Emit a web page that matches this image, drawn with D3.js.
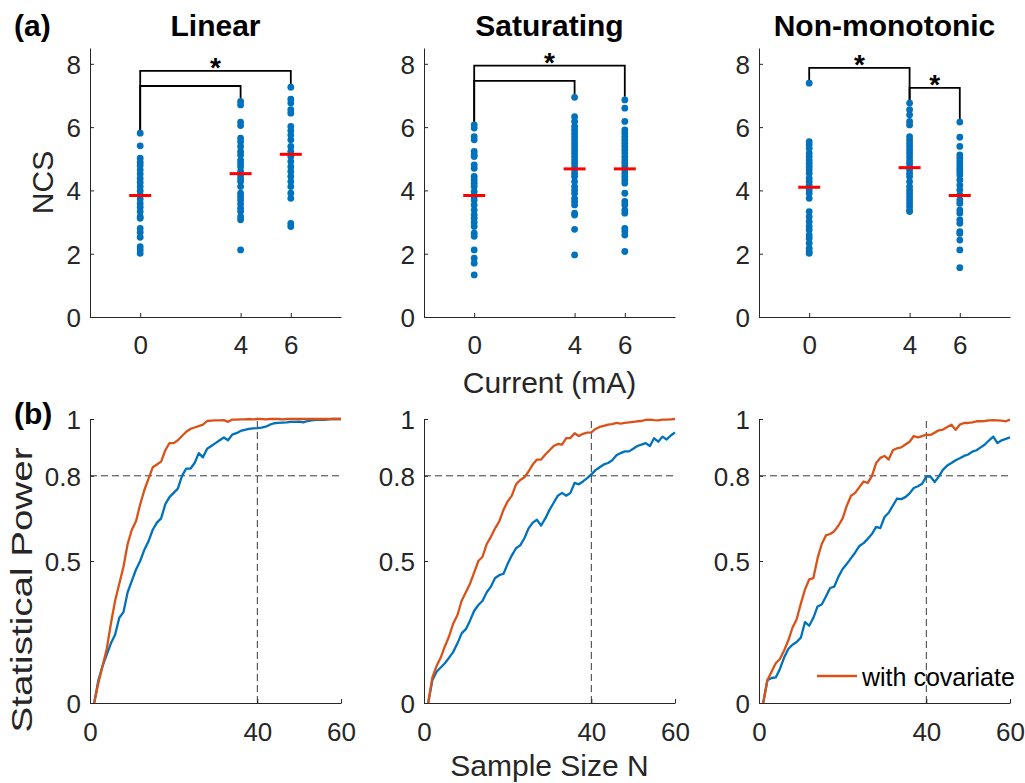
<!DOCTYPE html>
<html>
<head>
<meta charset="utf-8">
<script src="https://cdn.jsdelivr.net/npm/d3@7"></script>
<style>
  html, body { margin: 0; padding: 0; background: #fff; }
  svg { display: block; font-family: "Liberation Sans", Arial, Helvetica, sans-serif; }
</style>
</head>
<body>
<svg id="chart" width="1025" height="783"></svg>
<script>
// ---------------- DATA ----------------
const modelNames = ["Linear", "Saturating", "Non-monotonic"];
const currents = [0, 4, 6];
const ncsTicks = [0, 2, 4, 6, 8];

// NCS scores per model and current (0, 4, 6 mA)
const linear0 = [5.81, 5.41, 5.02, 4.89, 4.79, 4.65, 4.52, 4.38, 4.25, 4.12, 3.99, 3.86, 3.73, 3.59, 3.47, 3.33, 3.17, 3.12, 2.80, 2.68, 2.52, 2.22, 2.12, 2.01];
const linear4 = [6.81, 6.70, 6.16, 6.05, 5.65, 5.54, 5.39, 5.23, 5.12, 4.96, 4.86, 4.75, 4.60, 4.49, 4.38, 4.28, 4.12, 3.91, 3.81, 3.70, 3.57, 3.44, 3.33, 3.17, 3.07, 2.12];
const linear6 = [7.26, 6.88, 6.76, 6.55, 6.44, 6.02, 5.89, 5.75, 5.60, 5.39, 5.23, 5.07, 4.91, 4.75, 4.60, 4.44, 4.28, 4.12, 3.91, 3.75, 2.96, 2.86];
const saturating0 = [6.07, 5.97, 5.70, 5.60, 5.23, 5.12, 5.07, 4.81, 4.70, 4.44, 4.33, 4.23, 4.12, 3.96, 3.81, 3.70, 3.54, 3.38, 3.23, 3.12, 2.99, 2.86, 2.65, 2.55, 2.12, 1.86, 1.70, 1.33];
const saturating4 = [6.94, 6.33, 6.18, 6.02, 5.91, 5.81, 5.70, 5.60, 5.49, 5.39, 5.28, 5.18, 5.07, 4.96, 4.86, 4.75, 4.65, 4.54, 4.44, 4.28, 4.12, 4.01, 3.91, 3.75, 3.65, 3.54, 3.28, 3.22, 2.77, 1.96];
const saturating6 = [6.86, 6.60, 6.18, 5.91, 5.81, 5.70, 5.60, 5.49, 5.39, 5.28, 5.18, 5.07, 4.96, 4.86, 4.75, 4.65, 4.54, 4.44, 4.33, 4.23, 3.91, 3.65, 3.54, 3.38, 3.28, 2.80, 2.70, 2.59, 2.07];
const nonmono0 = [7.39, 5.54, 5.44, 5.33, 5.18, 5.07, 4.96, 4.86, 4.75, 4.65, 4.54, 4.38, 4.28, 4.17, 4.02, 3.91, 3.75, 3.33, 3.17, 3.01, 2.86, 2.75, 2.59, 2.49, 2.33, 2.17, 2.07, 2.01];
const nonmono4 = [6.76, 6.55, 6.39, 6.18, 6.07, 5.70, 5.60, 5.49, 5.39, 5.28, 5.18, 5.07, 4.96, 4.86, 4.75, 4.65, 4.54, 4.44, 4.28, 4.12, 4.01, 3.91, 3.80, 3.70, 3.59, 3.49, 3.38, 3.33];
const nonmono6 = [6.16, 5.68, 5.39, 5.12, 5.02, 4.91, 4.81, 4.70, 4.60, 4.49, 4.33, 4.17, 4.02, 3.86, 3.70, 3.59, 3.38, 3.28, 3.07, 2.96, 2.70, 2.64, 2.43, 2.12, 1.56];

// group means (red bars)
const linearMeans = [3.84, 4.53, 5.14];
const saturatingMeans = [3.84, 4.68, 4.68];
const nonmonoMeans = [4.10, 4.72, 3.84];

// significance brackets: [from current, to current, bracket level, star]
const linearBrackets = [[0, 6, 7.78, true], [0, 4, 7.30, false]];
const saturatingBrackets = [[0, 6, 7.94, true], [0, 4, 7.46, false]];
const nonmonoBrackets = [[0, 4, 7.87, true], [4, 6, 7.24, true]];

// power analysis
const sampleN = [1,2,3,4,5,6,7,8,9,10,11,12,13,14,15,16,17,18,19,20,21,22,23,24,25,26,27,28,29,30,31,32,33,34,35,36,37,38,39,40,41,42,43,44,45,46,47,48,49,50,51,52,53,54,55,56,57,58,59,60];
const powerTicks = [0, 0.5, 0.8, 1];
const sampleTicks = [0, 40, 60];

const linearWithCov = [0, 0.07, 0.13, 0.19, 0.28, 0.36, 0.42, 0.48, 0.56, 0.61, 0.64, 0.70, 0.75, 0.79, 0.83, 0.84, 0.85, 0.89, 0.915, 0.915, 0.925, 0.94, 0.955, 0.965, 0.97, 0.975, 0.98, 0.993, 0.994, 0.995, 0.995, 0.996, 0.99, 0.998, 0.998, 0.999, 0.999, 1.0, 0.999, 1.0, 1.0, 0.999, 1.0, 1.0, 1.0, 0.999, 1.0, 1.0, 1.0, 1.0, 1.0, 1.0, 1.0, 1.0, 1.0, 1.0, 1.0, 1.0, 1.0, 1.0];
const linearNoCov = [0, 0.08, 0.13, 0.17, 0.21, 0.24, 0.30, 0.32, 0.39, 0.43, 0.47, 0.50, 0.54, 0.57, 0.61, 0.635, 0.65, 0.70, 0.725, 0.74, 0.755, 0.80, 0.825, 0.825, 0.845, 0.88, 0.865, 0.895, 0.905, 0.915, 0.925, 0.935, 0.925, 0.945, 0.95, 0.958, 0.962, 0.965, 0.967, 0.968, 0.97, 0.973, 0.98, 0.985, 0.986, 0.987, 0.988, 0.99, 0.99, 0.991, 0.988, 0.993, 0.995, 0.997, 0.998, 0.997, 0.999, 1.0, 1.0, 1.0];
const saturatingWithCov = [0, 0.09, 0.13, 0.16, 0.20, 0.235, 0.28, 0.31, 0.36, 0.39, 0.42, 0.46, 0.50, 0.515, 0.56, 0.585, 0.615, 0.64, 0.68, 0.71, 0.73, 0.77, 0.785, 0.795, 0.815, 0.84, 0.857, 0.857, 0.875, 0.89, 0.905, 0.912, 0.91, 0.933, 0.933, 0.95, 0.94, 0.948, 0.952, 0.953, 0.965, 0.972, 0.976, 0.98, 0.982, 0.986, 0.984, 0.986, 0.988, 0.99, 0.992, 0.993, 0.997, 0.998, 0.996, 0.995, 0.998, 0.998, 0.999, 1.0];
const saturatingNoCov = [0, 0.08, 0.11, 0.125, 0.14, 0.16, 0.18, 0.21, 0.245, 0.26, 0.29, 0.325, 0.345, 0.36, 0.39, 0.41, 0.44, 0.45, 0.455, 0.49, 0.52, 0.545, 0.555, 0.58, 0.615, 0.635, 0.645, 0.625, 0.65, 0.68, 0.705, 0.73, 0.74, 0.73, 0.74, 0.775, 0.77, 0.78, 0.792, 0.805, 0.82, 0.83, 0.84, 0.845, 0.855, 0.872, 0.88, 0.886, 0.886, 0.895, 0.905, 0.91, 0.915, 0.905, 0.932, 0.92, 0.938, 0.928, 0.942, 0.953];
const nonmonoWithCov = [0, 0.08, 0.11, 0.14, 0.155, 0.185, 0.22, 0.265, 0.295, 0.35, 0.40, 0.435, 0.44, 0.51, 0.56, 0.59, 0.595, 0.605, 0.625, 0.65, 0.695, 0.73, 0.74, 0.76, 0.78, 0.775, 0.80, 0.845, 0.863, 0.87, 0.857, 0.89, 0.897, 0.90, 0.91, 0.92, 0.94, 0.935, 0.94, 0.945, 0.944, 0.952, 0.96, 0.963, 0.972, 0.98, 0.962, 0.98, 0.986, 0.986, 0.988, 0.992, 0.992, 0.993, 0.995, 0.996, 0.995, 0.994, 0.992, 0.998];
const nonmonoNoCov = [0, 0.08, 0.088, 0.09, 0.12, 0.16, 0.19, 0.205, 0.215, 0.23, 0.285, 0.272, 0.30, 0.34, 0.347, 0.375, 0.405, 0.41, 0.445, 0.472, 0.49, 0.51, 0.53, 0.553, 0.563, 0.578, 0.595, 0.62, 0.616, 0.655, 0.67, 0.695, 0.72, 0.718, 0.725, 0.738, 0.757, 0.763, 0.772, 0.798, 0.797, 0.778, 0.798, 0.822, 0.836, 0.845, 0.855, 0.862, 0.87, 0.875, 0.885, 0.89, 0.90, 0.91, 0.925, 0.938, 0.915, 0.925, 0.93, 0.935];

const targetPower = 0.8;
const targetN = 40;
const legendLabel = "with covariate";

// ---------------- LAYOUT ----------------
const svg = d3.select("#chart");
const axisColor = "#262626";
const blue = "#0072BD", orange = "#D95319";
const panelLeft = [90, 424, 759];
const panelW = 251;
const topY = [317, 48];
const botY = [703, 419];
const tickFs = 26, labelFs = 30, titleFs = 30;

const ncsGroups = [[linear0, linear4, linear6], [saturating0, saturating4, saturating6], [nonmono0, nonmono4, nonmono6]];
const meanGroups = [linearMeans, saturatingMeans, nonmonoMeans];
const bracketGroups = [linearBrackets, saturatingBrackets, nonmonoBrackets];
const powerWith = [linearWithCov, saturatingWithCov, nonmonoWithCov];
const powerWithout = [linearNoCov, saturatingNoCov, nonmonoNoCov];

function styleAxis(g, fs) {
  g.select(".domain").attr("stroke", axisColor).attr("stroke-width", 1);
  g.selectAll(".tick line").attr("stroke", axisColor);
  g.selectAll(".tick text").attr("fill", axisColor).attr("font-size", fs).attr("font-family", null);
}

// ---------- Top row ----------
modelNames.forEach((name, i) => {
  const L = panelLeft[i];
  const x = d3.scaleLinear().domain([-2, 8]).range([L, L + panelW]);
  const y = d3.scaleLinear().domain([0, 8.5]).range(topY);
  const g = svg.append("g");

  const yAxis = d3.axisLeft(y).tickValues(ncsTicks).tickSizeInner(-4).tickSizeOuter(0).tickPadding(9).tickFormat(d3.format("d"));
  const gy = g.append("g").attr("transform", `translate(${L},0)`).call(yAxis);
  styleAxis(gy, tickFs);
  gy.selectAll(".tick text").attr("dy", "0.36em");

  const xAxis = d3.axisBottom(x).tickValues(currents).tickSizeInner(-4).tickSizeOuter(0).tickPadding(19).tickFormat(d3.format("d"));
  const gx = g.append("g").attr("transform", `translate(0,${topY[0]})`).call(xAxis);
  styleAxis(gx, tickFs);
  gx.selectAll(".tick text").attr("dy", "0.71em");

  // brackets
  const groups = ncsGroups[i];
  bracketGroups[i].forEach(([a, b, lvl, star]) => {
    const ia = currents.indexOf(a), ib = currents.indexOf(b);
    const ya = d3.max(groups[ia]) + 0.1, yb = d3.max(groups[ib]) + 0.1;
    g.append("path")
      .attr("d", `M${x(a)},${y(ya)}V${y(lvl)}H${x(b)}V${y(yb)}`)
      .attr("fill", "none").attr("stroke", "#000").attr("stroke-width", 1.8);
    if (star) {
      g.append("text").attr("x", (x(a) + x(b)) / 2).attr("y", y(lvl) + 6)
        .attr("text-anchor", "middle").attr("font-size", 28).attr("font-weight", "bold")
        .attr("fill", "#000").text("*");
    }
  });

  // dots
  groups.forEach((vals, k) => {
    g.append("g").selectAll("circle").data(vals).join("circle")
      .attr("cx", x(currents[k])).attr("cy", d => y(d)).attr("r", 3.4)
      .attr("fill", blue);
  });
  // means
  g.append("g").selectAll("line").data(meanGroups[i]).join("line")
    .attr("x1", (d, k) => x(currents[k]) - 11).attr("x2", (d, k) => x(currents[k]) + 11)
    .attr("y1", d => y(d)).attr("y2", d => y(d))
    .attr("stroke", "#ff0000").attr("stroke-width", 3);

  // title
  svg.append("text").attr("x", L + panelW / 2).attr("y", 36).attr("text-anchor", "middle")
    .attr("font-size", titleFs).attr("font-weight", "bold").attr("fill", "#000").text(name);
});

// ---------- Bottom row ----------
modelNames.forEach((name, i) => {
  const L = panelLeft[i];
  const x = d3.scaleLinear().domain([0, 60]).range([L, L + panelW]);
  const y = d3.scaleLinear().domain([0, 1]).range(botY);
  const g = svg.append("g");

  // reference lines
  g.append("line").attr("x1", x(0)).attr("x2", x(60)).attr("y1", y(targetPower)).attr("y2", y(targetPower))
    .attr("stroke", "#3a3a3a").attr("stroke-width", 1).attr("stroke-dasharray", "7,4");
  g.append("line").attr("x1", x(targetN)).attr("x2", x(targetN)).attr("y1", y(0)).attr("y2", y(1))
    .attr("stroke", "#3a3a3a").attr("stroke-width", 1).attr("stroke-dasharray", "7,4");

  const yAxis = d3.axisLeft(y).tickValues(powerTicks).tickSizeInner(-4).tickSizeOuter(0).tickPadding(9).tickFormat(d => String(d));
  const gy = g.append("g").attr("transform", `translate(${L},0)`).call(yAxis);
  styleAxis(gy, tickFs);
  gy.selectAll(".tick text").attr("dy", "0.36em");

  const xAxis = d3.axisBottom(x).tickValues(sampleTicks).tickSizeInner(-4).tickSizeOuter(0).tickPadding(20).tickFormat(d3.format("d"));
  const gx = g.append("g").attr("transform", `translate(0,${botY[0]})`).call(xAxis);
  styleAxis(gx, tickFs);
  gx.selectAll(".tick text").attr("dy", "0.71em");

  const line = d3.line().x((d, k) => x(sampleN[k])).y(d => y(d));
  g.append("path").datum(powerWithout[i]).attr("d", line)
    .attr("fill", "none").attr("stroke", blue).attr("stroke-width", 2.3).attr("stroke-linejoin", "round");
  g.append("path").datum(powerWith[i]).attr("d", line)
    .attr("fill", "none").attr("stroke", orange).attr("stroke-width", 2.3).attr("stroke-linejoin", "round");

  if (i === 2) {
    const lg = g.append("g");
    lg.append("line").attr("x1", L + 58).attr("x2", L + 98).attr("y1", botY[0] - 27).attr("y2", botY[0] - 27)
      .attr("stroke", orange).attr("stroke-width", 2.3);
    lg.append("text").attr("x", L + 103).attr("y", botY[0] - 17).attr("font-size", 25)
      .attr("fill", "#000").text(legendLabel);
  }
});

// ---------- Labels ----------
svg.append("text").attr("x", 14).attr("y", 36).attr("font-size", titleFs).attr("font-weight", "bold").attr("fill", "#000").text("(a)");
svg.append("text").attr("x", 14).attr("y", 424).attr("font-size", titleFs).attr("font-weight", "bold").attr("fill", "#000").text("(b)");

svg.append("text").attr("transform", `translate(53,${(topY[0] + topY[1]) / 2}) rotate(-90)`)
  .attr("text-anchor", "middle").attr("font-size", labelFs).attr("fill", axisColor).text("NCS");
svg.append("text").attr("x", panelLeft[1] + panelW / 2).attr("y", 393)
  .attr("text-anchor", "middle").attr("font-size", labelFs).attr("fill", axisColor).text("Current (mA)");
svg.append("text").attr("transform", `translate(32,590) rotate(-90)`)
  .attr("text-anchor", "middle").attr("font-size", labelFs).attr("fill", axisColor)
  .attr("textLength", 285).attr("lengthAdjust", "spacingAndGlyphs").text("Statistical Power");
svg.append("text").attr("x", panelLeft[1] + panelW / 2).attr("y", 776)
  .attr("text-anchor", "middle").attr("font-size", labelFs).attr("fill", axisColor).text("Sample Size N");
</script>
</body>
</html>
